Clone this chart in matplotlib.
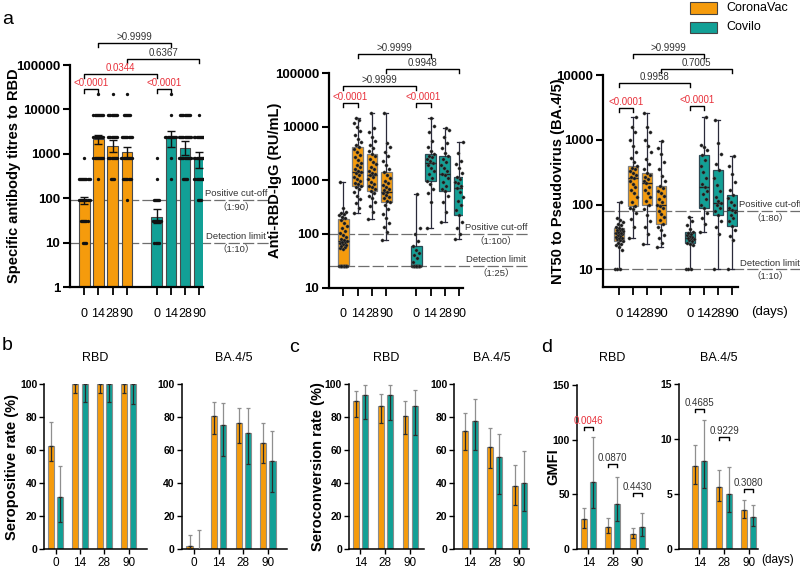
import matplotlib
matplotlib.use('Agg')
import matplotlib.pyplot as plt
from matplotlib.patches import Rectangle
from matplotlib import transforms as mtrans
from matplotlib.ticker import NullLocator
import numpy as np

plt.rcParams['font.family'] = ['Liberation Sans', 'Noto Sans CJK SC', 'DejaVu Sans']

# ---------------- data ----------------
days_a = ['0', '14', '28', '90']
pos_a = [0, 1, 2, 3, 5.1, 6.1, 7.1, 8.1]

# panel a1: specific antibody titres to RBD (bars = GMT, 95% CI)
a1_gmt = [88, 2120, 1520, 1080, 37, 2230, 1330, 764]
a1_lo = [73, 1640, 1120, 790, 27, 1445, 940, 471]
a1_hi = [108, 2650, 2050, 1445, 56, 3260, 1940, 1120]
a1_levels = [10, 30, 90, 270, 810, 2430, 7290, 21870]
a1_counts = [
    [4, 7, 11, 11, 1, 0, 0, 0],
    [0, 0, 0, 1, 10, 10, 10, 1],
    [0, 0, 0, 4, 9, 9, 9, 1],
    [0, 0, 1, 8, 11, 10, 7, 1],
    [5, 8, 6, 1, 1, 0, 0, 0],
    [0, 0, 0, 1, 1, 11, 1, 1],
    [0, 0, 0, 5, 12, 12, 10, 0],
    [0, 0, 4, 10, 10, 10, 1, 0],
]
a1_cutoffs = [90, 10]

# panel a2: anti-RBD IgG (RU/mL) box stats
igg_lo = [25, 250, 190, 78, 25, 130, 168, 82]
igg_q1 = [25, 800, 624, 389, 25, 960, 624, 223]
igg_med = [73, 1430, 1240, 608, 25, 2110, 1330, 720]
igg_q3 = [190, 4190, 3100, 1410, 59, 3100, 2900, 1155]
igg_hi = [918, 14500, 18000, 18000, 565, 14900, 9460, 5190]
igg_pts = [
    [25] * 12 + [52, 55, 58, 60, 62, 65, 68, 70, 72, 75, 78, 82, 88, 95, 105, 115, 128, 140,
                 160, 180, 195, 210, 225, 240, 250, 255, 300, 918],
    [250, 300, 380, 450, 520, 600, 680, 750, 800, 850, 900, 980, 1050, 1150, 1250, 1350, 1430,
     1500, 1600, 1750, 1900, 2100, 2400, 2700, 3000, 3400, 3800, 4200, 4600, 5200, 6000, 7000,
     8500, 10000, 12000, 13500, 14500],
    [190, 260, 330, 400, 460, 520, 580, 624, 680, 740, 800, 870, 950, 1050, 1150, 1240, 1300,
     1400, 1500, 1650, 1800, 2000, 2200, 2500, 2800, 3100, 3500, 4000, 4600, 5500, 6500, 8000,
     9500, 18000],
    [78, 110, 135, 160, 200, 240, 290, 340, 389, 420, 460, 500, 540, 580, 608, 650, 700, 760,
     830, 900, 980, 1100, 1250, 1410, 1600, 1900, 2300, 2800, 3400, 4200, 5000, 18000],
    [25] * 13 + [30, 35, 40, 45, 50, 59, 75, 100, 130, 565],
    [130, 400, 580, 700, 850, 960, 1100, 1300, 1500, 1700, 1900, 2110, 2300, 2500, 2700, 2900,
     3100, 3500, 4200, 5500, 8000, 10500, 14900],
    [168, 260, 400, 520, 624, 700, 800, 950, 1100, 1250, 1330, 1500, 1700, 1900, 2200, 2500,
     2900, 3300, 4000, 5000, 6500, 8700, 9460],
    [82, 100, 130, 170, 223, 280, 350, 420, 500, 600, 720, 800, 880, 950, 1050, 1155, 1400,
     1700, 2000, 2300, 3200, 5190],
]
igg_cutoffs = [100, 25]

# panel a3: NT50 to pseudovirus BA.4/5 box stats
nt_lo = [10, 30, 25, 22, 10, 38, 10, 10]
nt_q1 = [27, 96, 100, 51, 26, 88, 69, 47]
nt_med = [36, 255, 215, 100, 31, 185, 105, 83]
nt_q3 = [43, 394, 311, 194, 38, 582, 342, 141]
nt_hi = [111, 2270, 2620, 957, 65, 2270, 2020, 562]
nt_pts = [
    [10, 10, 10, 20, 22, 24, 25, 26, 27, 28, 29, 30, 31, 32, 33, 34, 35, 36, 36, 37, 38, 39, 40,
     41, 42, 43, 45, 48, 50, 53, 57, 62, 111],
    [30, 45, 60, 75, 85, 90, 96, 110, 130, 150, 170, 190, 210, 230, 255, 270, 290, 310, 330, 350,
     370, 394, 450, 520, 650, 800, 1000, 1300, 1600, 2270],
    [25, 35, 45, 55, 70, 85, 100, 115, 130, 150, 170, 190, 215, 230, 250, 270, 290, 311, 350, 420,
     500, 650, 800, 1000, 1300, 1600, 2620],
    [22, 26, 30, 34, 40, 45, 51, 58, 65, 72, 80, 88, 95, 100, 110, 120, 135, 150, 165, 180, 194,
     230, 280, 350, 450, 600, 750, 957],
    [10, 10, 10, 24, 25, 26, 27, 28, 29, 30, 31, 32, 33, 34, 35, 36, 38, 42, 48, 55, 65],
    [38, 50, 62, 75, 88, 100, 120, 145, 165, 185, 210, 260, 320, 400, 480, 582, 700, 780, 820, 2270],
    [10, 35, 45, 55, 69, 80, 90, 100, 105, 115, 130, 160, 200, 260, 342, 420, 600, 900, 2020],
    [10, 28, 33, 40, 47, 55, 62, 70, 78, 83, 90, 100, 110, 125, 141, 170, 220, 300, 400, 562],
]
nt_cutoffs = [80, 10]

# panel b: seropositive rate (%)
b_days = ['0', '14', '28', '90']
b_rbd_cv = [62.4, 100, 100, 100]
b_rbd_cv_lo = [53.4, 94.5, 94.5, 94.5]
b_rbd_cv_hi = [77.2, 100, 100, 100]
b_rbd_co = [31.5, 100, 100, 100]
b_rbd_co_lo = [16.2, 88.8, 88.8, 88.0]
b_rbd_co_hi = [50.4, 100, 100, 100]
b_ba_cv = [1.6, 80.5, 76.1, 64.5]
b_ba_cv_lo = [0, 69.4, 64.5, 52.3]
b_ba_cv_hi = [8.5, 89.3, 85.6, 76.1]
b_ba_co = [0.3, 74.9, 70.6, 53.3]
b_ba_co_lo = [0, 56.4, 51.7, 34.4]
b_ba_co_hi = [11.6, 88.3, 85.6, 71.6]

# panel c: seroconversion rate (%)
c_days = ['14', '28', '90']
c_rbd_cv = [89.4, 86.4, 80.7]
c_rbd_cv_lo = [79.7, 76.2, 69.5]
c_rbd_cv_hi = [95.5, 93.9, 89.4]
c_rbd_co = [93.5, 93.5, 86.4]
c_rbd_co_lo = [78.9, 78.3, 69.1]
c_rbd_co_hi = [99.2, 99.2, 96.1]
c_ba_cv = [71.7, 61.6, 38.2]
c_ba_cv_lo = [60.0, 49.2, 26.8]
c_ba_cv_hi = [82.3, 73.2, 50.8]
c_ba_co = [77.8, 55.9, 40.0]
c_ba_co_lo = [60.0, 33.5, 22.8]
c_ba_co_hi = [90.9, 69.7, 59.6]

# panel d: GMFI
d_rbd_cv = [27.1, 19.8, 13.7]
d_rbd_cv_lo = [18.9, 14.3, 9.8]
d_rbd_cv_hi = [37.2, 28.0, 19.5]
d_rbd_co = [61.6, 41.2, 20.4]
d_rbd_co_lo = [37.2, 25.9, 12.2]
d_rbd_co_hi = [102.1, 66.2, 32.6]
d_rbd_p = ['0.0046', '0.0870', '0.4430']
d_ba_cv = [7.53, 5.63, 3.52]
d_ba_cv_lo = [5.87, 4.37, 2.80]
d_ba_cv_hi = [9.46, 7.17, 4.46]
d_ba_co = [8.04, 5.03, 2.95]
d_ba_co_lo = [5.51, 3.40, 2.11]
d_ba_co_hi = [11.75, 7.44, 4.04]
d_ba_p = ['0.4685', '0.9229', '0.3080']

# ---------------- style ----------------
ORANGE = '#F59B0C'
TEAL = '#12A096'
RED = '#E8303A'
GREYTXT = '#333333'
W, H = 800, 570

fig = plt.figure(figsize=(8, 5.7), dpi=100)


def px_ax(l, t, r, b):
    return fig.add_axes([l / W, 1 - b / H, (r - l) / W, (b - t) / H])


def fy(ypx):
    return 1 - ypx / H


def set_ylab(ax, text, x_px, fs=10.5):
    bb = ax.get_position()
    ax.set_ylabel(text, fontweight='bold', fontsize=fs)
    ax.yaxis.label.set_verticalalignment('center')
    ax.yaxis.set_label_coords((x_px / W - bb.x0) / bb.width, 0.5)


def style_top(ax, ylabel, lab_x_px, yticks, xfs=9.0):
    for s in ['top', 'right']:
        ax.spines[s].set_visible(False)
    for s in ['left', 'bottom']:
        ax.spines[s].set_linewidth(1.6)
    ax.set_yscale('log')
    ax.set_yticks(yticks)
    ax.set_yticklabels([str(v) for v in yticks], fontweight='bold', fontsize=9.5)
    ax.yaxis.set_minor_locator(NullLocator())
    ax.set_xticks(pos_a)
    ax.set_xticklabels(days_a * 2, fontsize=xfs)
    ax.tick_params(axis='y', length=5, width=1.5, pad=2)
    ax.tick_params(axis='x', length=6, width=1.3, pad=9)
    set_ylab(ax, ylabel, lab_x_px)


def bracket(ax, x1, x2, ypx, text, color, drop=4, fs=7):
    tr = mtrans.blended_transform_factory(ax.transData, fig.transFigure)
    ax.plot([x1, x1, x2, x2], [fy(ypx + drop), fy(ypx), fy(ypx), fy(ypx + drop)],
            transform=tr, color='k', lw=1.0, clip_on=False)
    ax.text((x1 + x2) / 2, fy(ypx - 6), text, transform=tr, ha='center', va='center',
            color=color, fontsize=fs)


def cutoff_lines(ax, vals, texts, xend_px, tx_px):
    tr = mtrans.blended_transform_factory(fig.transFigure, ax.transData)
    x0 = ax.get_position().x0
    for v, t in zip(vals, texts):
        ax.plot([x0, xend_px / W], [v, v], transform=tr, color='#6e6e6e', lw=0.9,
                ls=(0, (9, 2.5)), clip_on=False, zorder=1)
        ax.text(tx_px / W, v, t, transform=tr, ha='center', va='center', fontsize=6.8,
                color=GREYTXT, linespacing=1.5)


def jitter(n, spread=0.55):
    i = np.arange(n)
    return ((i * 0.618034) % 1.0 - 0.5) * spread


def box_panel(ax, lo, q1, med, q3, hi, pts):
    stats = [dict(whislo=a, q1=b, med=c, q3=d, whishi=e) for a, b, c, d, e in zip(lo, q1, med, q3, hi)]
    bp = ax.bxp(stats, positions=pos_a, widths=0.75, patch_artist=True, showfliers=False,
                capwidths=0.3, manage_ticks=False,
                whiskerprops=dict(color='#2a2a3a', lw=0.9),
                capprops=dict(color='#2a2a3a', lw=0.9),
                medianprops=dict(color='#222222', lw=1.0))
    for k, b in enumerate(bp['boxes']):
        b.set_facecolor(ORANGE if k < 4 else TEAL)
        b.set_edgecolor('#7d7d7d' if k < 4 else '#2d4a55')
        b.set_linewidth(0.9)
        b.set_zorder(2)
    for k, p in enumerate(pts):
        p = sorted(p)
        ax.plot(pos_a[k] + jitter(len(p)), p, 'o', ms=2.3, color='#1a1a1a', mew=0.3,
                mec='#555555', zorder=4, clip_on=False)


# ---------------- panel a1 ----------------
a1 = px_ax(70, 65, 203, 287)
a1.set_xlim(-1.0, 8.36)
a1.set_ylim(1, 1e5)
style_top(a1, 'Specific antibody titres to RBD', 14, [1, 10, 100, 1000, 10000, 100000])
cols8 = [ORANGE] * 4 + [TEAL] * 4
a1.bar(pos_a, a1_gmt, width=0.75, color=cols8, edgecolor='#4a4a4a', lw=0.8, zorder=2)
for g, cnts in enumerate(a1_counts):
    for lvl, c in zip(a1_levels, cnts):
        if c:
            xs = pos_a[g] + (np.arange(c) - (c - 1) / 2) * 0.078
            a1.plot(xs, [lvl] * c, 'o', ms=2.4, color='#111111', mew=0, zorder=4)
a1.errorbar(pos_a, a1_gmt, yerr=[np.array(a1_gmt) - np.array(a1_lo), np.array(a1_hi) - np.array(a1_gmt)],
            fmt='none', ecolor='#111111', elinewidth=1.0, capsize=2.6, capthick=1.0, zorder=5)
cutoff_lines(a1, a1_cutoffs, ['Positive cut-off\n（1:90）', 'Detection limit\n（1:10）'], 270, 236)
bracket(a1, 1, 6.1, 42.7, '>0.9999', GREYTXT)
bracket(a1, 3, 8.1, 59.3, '0.6367', GREYTXT)
bracket(a1, 0, 5.1, 74, '0.0344', RED)
bracket(a1, 0, 1, 88.7, '<0.0001', RED)
bracket(a1, 5.1, 6.1, 88.7, '<0.0001', RED)

# ---------------- panel a2 ----------------
a2 = px_ax(329, 73.3, 463, 287.5)
a2.set_xlim(-1.0, 8.37)
a2.set_ylim(10, 1e5)
style_top(a2, 'Anti-RBD-IgG (RU/mL)', 275, [10, 100, 1000, 10000, 100000])
box_panel(a2, igg_lo, igg_q1, igg_med, igg_q3, igg_hi, igg_pts)
cutoff_lines(a2, igg_cutoffs, ['Positive cut-off\n（1:100）', 'Detection limit\n（1:25）'], 530, 496)
bracket(a2, 1, 6.1, 54.3, '>0.9999', GREYTXT)
bracket(a2, 3, 8.1, 69.3, '0.9948', GREYTXT)
bracket(a2, 0, 5.1, 86, '>0.9999', GREYTXT)
bracket(a2, 0, 1, 102.7, '<0.0001', RED)
bracket(a2, 5.1, 6.1, 102.7, '<0.0001', RED)

# ---------------- panel a3 ----------------
a3 = px_ax(603, 75, 738, 287)
a3.set_xlim(-1.17, 8.54)
a3.set_ylim(5.35, 1e4)
style_top(a3, 'NT50 to Pseudovirus (BA.4/5)', 558, [10, 100, 1000, 10000], xfs=9.5)
box_panel(a3, nt_lo, nt_q1, nt_med, nt_q3, nt_hi, nt_pts)
cutoff_lines(a3, nt_cutoffs, ['Positive cut-off\n（1:80）', 'Detection limit\n（1:10）'], 800, 770)
bracket(a3, 1, 6.1, 54.3, '>0.9999', GREYTXT)
bracket(a3, 3, 8.1, 69.3, '0.7005', GREYTXT)
bracket(a3, 0, 5.1, 83.3, '0.9958', GREYTXT)
bracket(a3, 0, 1, 108.3, '<0.0001', RED)
bracket(a3, 5.1, 6.1, 106, '<0.0001', RED)
fig.text(769 / W, fy(312), '(days)', ha='center', va='center', fontsize=9.5)

# legend
fig.add_artist(Rectangle((690 / W, fy(13.5)), 27 / W, 11.5 / H, transform=fig.transFigure,
                         facecolor=ORANGE, edgecolor='#444444', lw=0.8))
fig.add_artist(Rectangle((690 / W, fy(33)), 27 / W, 11.5 / H, transform=fig.transFigure,
                         facecolor=TEAL, edgecolor='#444444', lw=0.8))
fig.text(726 / W, fy(8), 'CoronaVac', ha='left', va='center', fontsize=9)
fig.text(726 / W, fy(27), 'Covilo', ha='left', va='center', fontsize=9)


# ---------------- bottom panels ----------------
def rate_panel(ax, days, cv, cv_lo, cv_hi, co, co_lo, co_hi, ylim, yticks, title, off=0.19, bw=0.25):
    x = np.arange(len(days))
    for s in ['top', 'right']:
        ax.spines[s].set_visible(False)
    for s in ['left', 'bottom']:
        ax.spines[s].set_linewidth(1.1)
    for xs, v, lo, hi, col in [(x - off, cv, cv_lo, cv_hi, ORANGE), (x + off, co, co_lo, co_hi, TEAL)]:
        v = np.array(v)
        lo = np.array(lo)
        hi = np.array(hi)
        ax.bar(xs, v, width=bw, color=col, edgecolor='#8c8c8c', lw=0.8, zorder=2)
        ax.errorbar(xs, v, yerr=[np.zeros_like(v), hi - v], fmt='none', ecolor='#8f8f8f',
                    elinewidth=0.9, capsize=1.6, capthick=0.9, zorder=3)
        ax.errorbar(xs, v, yerr=[v - lo, np.zeros_like(v)], fmt='none', ecolor='#2b2b2b',
                    elinewidth=0.9, capsize=1.6, capthick=0.9, zorder=4)
    ax.set_ylim(*ylim)
    ax.set_yticks(yticks)
    ax.set_yticklabels([str(t) for t in yticks], fontweight='bold', fontsize=7.5)
    ax.set_xticks(x)
    ax.set_xticklabels(days, fontsize=8.5)
    ax.tick_params(axis='y', length=3.5, width=1.0, pad=1.5)
    ax.tick_params(axis='x', length=3.5, width=1.0, pad=2)
    bb = ax.get_position()
    fig.text(bb.x0 + bb.width / 2, fy(358), title, ha='center', va='center', fontsize=9)


b1 = px_ax(44.3, 384, 146.7, 549)
b1.set_xlim(-0.47, 3.74)
rate_panel(b1, b_days, b_rbd_cv, b_rbd_cv_lo, b_rbd_cv_hi, b_rbd_co, b_rbd_co_lo, b_rbd_co_hi,
           (0, 100), [0, 20, 40, 60, 80, 100], 'RBD')
set_ylab(b1, 'Seropositive rate (%)', 12)

b2 = px_ax(181.7, 384, 286.7, 549)
b2.set_xlim(-0.51, 3.77)
rate_panel(b2, b_days, b_ba_cv, b_ba_cv_lo, b_ba_cv_hi, b_ba_co, b_ba_co_lo, b_ba_co_hi,
           (0, 100), [0, 20, 40, 60, 80, 100], 'BA.4/5')

c1 = px_ax(349, 384, 424, 549)
c1.set_xlim(-0.46, 2.56)
rate_panel(c1, c_days, c_rbd_cv, c_rbd_cv_lo, c_rbd_cv_hi, c_rbd_co, c_rbd_co_lo, c_rbd_co_hi,
           (0, 100), [0, 20, 40, 60, 80, 100], 'RBD', off=0.185, bw=0.24)
set_ylab(c1, 'Seroconversion rate (%)', 318)

c2 = px_ax(454.3, 384, 529, 549)
c2.set_xlim(-0.64, 2.39)
rate_panel(c2, c_days, c_ba_cv, c_ba_cv_lo, c_ba_cv_hi, c_ba_co, c_ba_co_lo, c_ba_co_hi,
           (0, 100), [0, 20, 40, 60, 80, 100], 'BA.4/5', off=0.19, bw=0.24)

d1 = px_ax(576.7, 385, 647.7, 549)
d1.set_xlim(-0.48, 2.43)
rate_panel(d1, c_days, d_rbd_cv, d_rbd_cv_lo, d_rbd_cv_hi, d_rbd_co, d_rbd_co_lo, d_rbd_co_hi,
           (0, 150), [0, 50, 100, 150], 'RBD')
set_ylab(d1, 'GMFI', 553)
for i, (p, ypx) in enumerate(zip(d_rbd_p, [426.7, 464, 492.7])):
    bracket(d1, i - 0.19, i + 0.19, ypx, p, RED if i == 0 else GREYTXT, drop=3)

d2 = px_ax(679, 384, 758, 549)
d2.set_xlim(-0.83, 2.38)
rate_panel(d2, c_days, d_ba_cv, d_ba_cv_lo, d_ba_cv_hi, d_ba_co, d_ba_co_lo, d_ba_co_hi,
           (0, 15), [0, 5, 10, 15], 'BA.4/5')
for i, (p, ypx) in enumerate(zip(d_ba_p, [409, 436.7, 489])):
    bracket(d2, i - 0.19, i + 0.19, ypx, p, GREYTXT, drop=3)
fig.text(778 / W, fy(560), '(days)', ha='center', va='center', fontsize=8.5)

# panel letters
for lab, xp, yp in [('a', 8, 19), ('b', 7, 346), ('c', 294, 347), ('d', 547, 347)]:
    fig.text(xp / W, fy(yp), lab, ha='center', va='center', fontsize=14)

fig.savefig('out.png', dpi=100)
